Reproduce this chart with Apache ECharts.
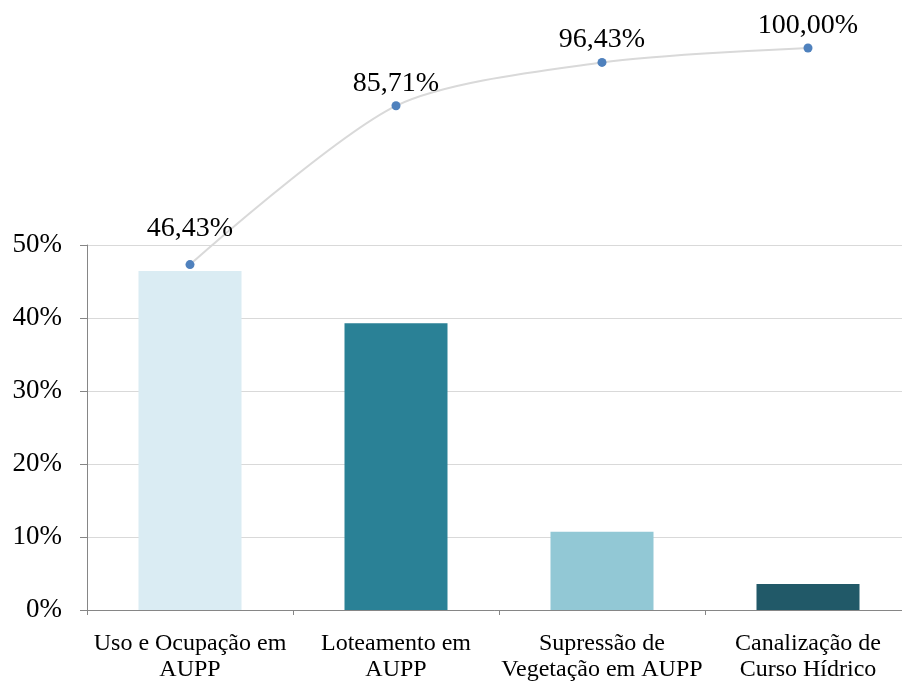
<!DOCTYPE html>
<html>
<head>
<meta charset="utf-8">
<script src="https://cdn.jsdelivr.net/npm/echarts@6/dist/echarts.min.js"></script>
<style>
  html, body { margin: 0; padding: 0; background: #ffffff; }
  #chart { width: 902px; height: 682px; }
</style>
</head>
<body>
<div id="chart"></div>
<script>
// Categories of infractions
const categories = [
  'Uso e Ocupação em\nAUPP',
  'Loteamento em\nAUPP',
  'Supressão de\nVegetação em AUPP',
  'Canalização de\nCurso Hídrico'
];
// Share of each category (%)
const shares = [46.43, 39.29, 10.71, 3.57];
// Cumulative share (%)
const cumulative = [46.43, 85.71, 96.43, 100.00];
// Bar fill colours
const barColors = ['#daecf3', '#2a8196', '#92c8d5', '#215968'];

const serif = '"Liberation Serif", "Times New Roman", serif';
const fmtPct = v => v.toFixed(2).replace('.', ',') + '%';

const chart = echarts.init(document.getElementById('chart'), null, { renderer: 'canvas' });

chart.setOption({
  animation: false,
  backgroundColor: '#ffffff',
  grid: [
    { left: 87, width: 824, top: 245, height: 365, containLabel: false, outerBoundsMode: 'none' },
    { left: 87, width: 824, top: 48, height: 562, containLabel: false, outerBoundsMode: 'none' }
  ],
  xAxis: [
    {
      type: 'category',
      gridIndex: 0,
      data: categories,
      boundaryGap: true,
      axisLine: { show: true, lineStyle: { color: '#868686', width: 1 } },
      axisTick: { show: true, interval: 0, length: 5, lineStyle: { color: '#868686' } },
      axisLabel: {
        interval: 0,
        margin: 21,
        color: '#000000',
        fontFamily: serif,
        fontSize: 24,
        lineHeight: 26
      }
    },
    {
      type: 'category',
      gridIndex: 1,
      data: categories,
      boundaryGap: true,
      show: false
    }
  ],
  yAxis: [
    {
      type: 'value',
      gridIndex: 0,
      min: 0,
      max: 50,
      interval: 10,
      axisLine: { show: true, lineStyle: { color: '#868686', width: 1 } },
      axisTick: { show: true, length: 7, lineStyle: { color: '#868686' } },
      axisLabel: {
        margin: 25,
        color: '#000000',
        fontFamily: serif,
        fontSize: 27,
        formatter: v => v + '%'
      },
      splitLine: { show: true, lineStyle: { color: '#d9d9d9', width: 1 } }
    },
    {
      type: 'value',
      gridIndex: 1,
      min: -39,
      max: 100,
      show: false,
      splitLine: { show: false }
    }
  ],
  series: [
    {
      type: 'bar',
      xAxisIndex: 0,
      yAxisIndex: 0,
      barWidth: '50%',
      data: shares.map((v, i) => ({ value: v, itemStyle: { color: barColors[i] } }))
    },
    {
      type: 'line',
      xAxisIndex: 1,
      yAxisIndex: 1,
      smooth: 0.27,
      symbol: 'circle',
      symbolSize: 9,
      lineStyle: { color: '#d9d9d9', width: 2 },
      itemStyle: { color: '#4f81bd' },
      label: {
        show: true,
        position: 'top',
        distance: 4,
        color: '#000000',
        fontFamily: serif,
        fontSize: 28,
        formatter: p => fmtPct(p.value)
      },
      data: cumulative.map((v, i) => i === 0
        ? { value: v, label: { distance: 17 } }
        : { value: v })
    }
  ]
});
</script>
</body>
</html>
